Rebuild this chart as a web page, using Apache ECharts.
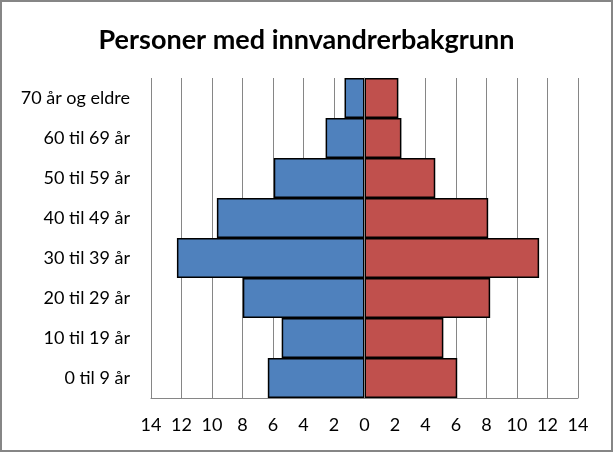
<!DOCTYPE html>
<html>
<head>
<meta charset="utf-8">
<script src="https://cdn.jsdelivr.net/npm/echarts@6/dist/echarts.min.js"></script>
<style>
html,body{margin:0;padding:0;background:#fff;}
#c{width:613px;height:452px;}
</style>
</head>
<body>
<div id="c"></div>
<script>
const categories = ['0 til 9 år','10 til 19 år','20 til 29 år','30 til 39 år','40 til 49 år','50 til 59 år','60 til 69 år','70 år og eldre'];
const leftValues = [6.34, 5.43, 7.98, 12.3, 9.68, 5.95, 2.55, 1.31];
const rightValues = [6.08, 5.17, 8.24, 11.45, 8.11, 4.64, 2.42, 2.22];
const titleText = 'Personer med innvandrerbakgrunn';

const chart = echarts.init(document.getElementById('c'), null, {renderer:'canvas'});
const font = 'Lato';
chart.setOption({
  animation:false,
  backgroundColor:'#fff',
  title:{text:titleText, left:'center', top:22, textStyle:{fontFamily:font, fontSize:27, fontWeight:'bold', color:'#000'}},
  graphic:[{type:'rect', shape:{x:1,y:1,width:611,height:450}, style:{fill:'none', stroke:'#868686', lineWidth:2}, z:100}],
  grid:{left:151, right:35, top:78, bottom:54},
  xAxis:{type:'value', min:-14, max:14, interval:2,
    axisLine:{show:true, lineStyle:{color:'#868686', width:1}},
    axisTick:{show:false},
    splitLine:{show:true, lineStyle:{color:'#868686', width:1}},
    axisLabel:{fontFamily:font, fontSize:18, color:'#000', margin:18, formatter:v=>Math.abs(v)}},
  yAxis:[
    {type:'category', data:categories, position:'left',
     axisLine:{show:false, onZero:false}, axisTick:{show:false},
     axisLabel:{fontFamily:font, fontSize:18, color:'#000', margin:21}},
    {type:'category', data:categories, position:'left', z:10,
     axisLine:{show:true, onZero:true, lineStyle:{color:'#868686', width:1}}, axisTick:{show:false},
     axisLabel:{show:false}}
  ],
  series:[
    {type:'bar', name:'left', data:leftValues.map(v=>-v), barWidth:'100%', barGap:'-100%',
     itemStyle:{color:'#4F81BD', borderColor:'#000', borderWidth:1.5}},
    {type:'bar', name:'right', data:rightValues, barWidth:'100%', barGap:'-100%',
     itemStyle:{color:'#C0504D', borderColor:'#000', borderWidth:1.5}}
  ]
});
</script>
</body>
</html>
